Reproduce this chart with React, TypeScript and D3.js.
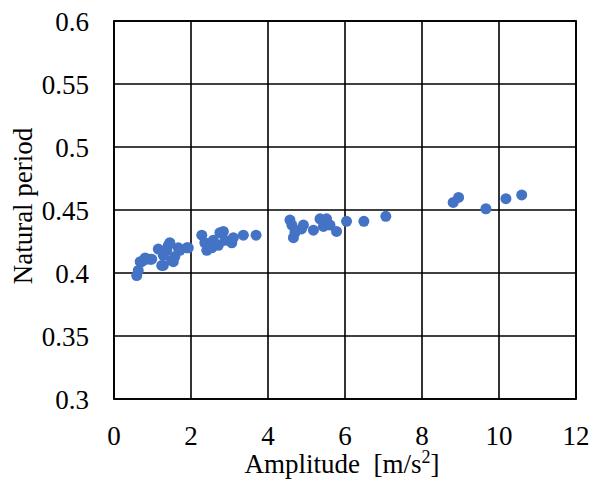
import React from "react";
import * as d3 from "d3";

const amplitude = [
  0.59, 0.63, 0.68, 0.72, 0.81, 0.85, 0.94, 0.98, 1.15, 1.24, 1.28, 1.28, 1.37, 1.41, 1.45, 1.5, 1.54, 1.58, 1.67, 1.71, 1.89, 1.93,
  2.28, 2.36, 2.41, 2.54, 2.58, 2.71, 2.75, 2.84, 2.88, 3.06, 3.1, 3.36, 3.69,
  4.57, 4.62, 4.66, 4.7, 4.87, 4.92, 5.18, 5.35, 5.44, 5.52, 5.61, 5.78, 6.04, 6.49, 7.06,
  8.81, 8.95, 9.66, 10.18, 10.59,
];
const period = [
  0.398, 0.402, 0.409, 0.409, 0.412, 0.411, 0.411, 0.411, 0.419, 0.406, 0.414, 0.406, 0.418, 0.422, 0.424, 0.41, 0.409, 0.413, 0.42, 0.418, 0.42, 0.42,
  0.43, 0.424, 0.418, 0.42, 0.426, 0.422, 0.432, 0.433, 0.426, 0.424, 0.428, 0.43, 0.43,
  0.442, 0.438, 0.428, 0.432, 0.435, 0.438, 0.434, 0.443, 0.437, 0.443, 0.438, 0.433, 0.441, 0.441, 0.445,
  0.456, 0.46, 0.451, 0.459, 0.462,
];
const xTicks = [0, 2, 4, 6, 8, 10, 12];
const yTicks = [0.3, 0.35, 0.4, 0.45, 0.5, 0.55, 0.6];

export default function App() {
  const W = 592, H = 481;
  const left = 114, right = 576, top = 21, bottom = 399;
  const x = d3.scaleLinear().domain([0, 12]).range([left, right]);
  const y = d3.scaleLinear().domain([0.3, 0.6]).range([bottom, top]);
  const font = "'Liberation Serif', 'Times New Roman', serif";
  return (
    <svg width={W} height={H} style={{ position: "absolute", left: 0, top: 0, background: "#fff" }}>
      <rect x={0} y={0} width={W} height={H} fill="#fff" />
      {xTicks.map((t) => (
        <line key={"gx" + t} x1={x(t)} x2={x(t)} y1={top} y2={bottom} stroke="#000" strokeWidth={1.6} />
      ))}
      {yTicks.map((t) => (
        <line key={"gy" + t} x1={left} x2={right} y1={y(t)} y2={y(t)} stroke="#000" strokeWidth={1.6} />
      ))}
      <rect x={left} y={top} width={right - left} height={bottom - top} fill="none" stroke="#000" strokeWidth={1.8} />
      {amplitude.map((a, i) => (
        <circle key={i} cx={x(a)} cy={y(period[i])} r={5.5} fill="#4472C4" />
      ))}
      {xTicks.map((t) => (
        <text key={"tx" + t} x={x(t)} y={445} textAnchor="middle" fontFamily={font} fontSize={27} fill="#000">
          {t}
        </text>
      ))}
      {yTicks.map((t) => (
        <text key={"ty" + t} x={89} y={y(t) + 9.5} textAnchor="end" fontFamily={font} fontSize={27} fill="#000">
          {String(t)}
        </text>
      ))}
      <text x={342} y={473} textAnchor="middle" fontFamily={font} fontSize={27} fill="#000">
        {"Amplitude\u00a0\u00a0[m/s"}<tspan dy={-10} fontSize={18}>2</tspan><tspan dy={10}>]</tspan>
      </text>
      <text transform={`translate(32,206) rotate(-90)`} textAnchor="middle" fontFamily={font} fontSize={27} fill="#000">
        Natural period
      </text>
    </svg>
  );
}
